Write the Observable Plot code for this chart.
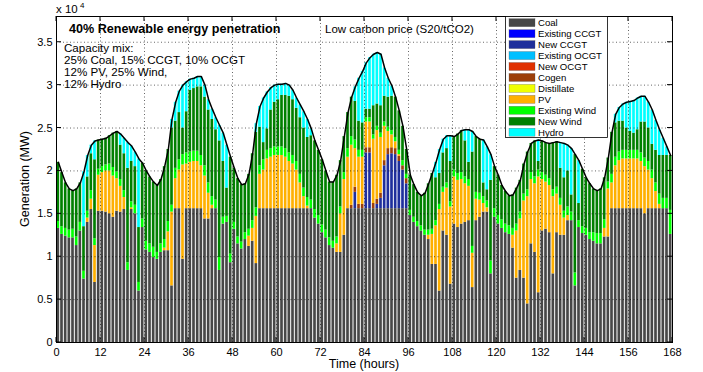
<!DOCTYPE html>
<html>
<head>
<meta charset="utf-8">
<script src="https://cdn.jsdelivr.net/npm/d3@7"></script>
<script src="https://cdn.jsdelivr.net/npm/@observablehq/plot@0.6"></script>
<style>
  body { margin: 0; background: #fff; }
  #chart svg { display: block; }
</style>
</head>
<body>
<div id="chart"></div>
<script>
// ---------- data (units: MW x 10^4) ----------
const seriesNames = ["Coal","Existing CCGT","New CCGT","Existing OCGT","New OCGT","Cogen","Distillate","PV","Existing Wind","New Wind","Hydro"];
const seriesColors = ["#474747","#0000ff","#1f2f9c","#00bfff","#e03000","#9c3f0a","#f0ff00","#ffb000","#00ff00","#008000","#00ffff"];
const xTicks = [0,12,24,36,48,60,72,84,96,108,120,132,144,156,168];
const yTicks = [0,0.5,1,1.5,2,2.5,3,3.5];

const coal = [
1.33,1.26,1.24,1.22,1.22,1.13,1.30,0.74,1.40,1.55,0.70,1.53,1.53,1.52,1.50,1.46,1.53,1.52,1.55,0.84,1.55,1.50,0.60,1.34,
1.08,1.05,0.99,0.97,1.05,1.07,1.07,0.66,1.56,1.56,0.97,1.56,1.56,1.56,1.56,1.56,1.44,1.44,1.56,1.56,0.84,1.38,1.40,0.93,
1.32,1.15,1.09,1.20,1.12,1.18,0.92,1.56,1.56,1.56,1.56,1.56,1.56,1.56,1.56,1.56,1.56,1.56,1.56,1.56,1.56,1.56,1.45,1.38,
1.28,1.22,1.13,1.10,1.05,1.05,1.25,1.56,1.56,1.56,1.56,1.56,1.56,1.56,1.56,1.56,1.56,1.56,1.56,1.56,1.56,1.56,1.56,1.56,
1.48,1.40,1.35,1.30,1.25,1.20,0.91,0.91,0.60,1.30,1.25,0.68,1.38,1.34,1.38,1.40,1.42,0.64,1.42,1.46,1.52,1.52,0.80,1.46,
1.38,1.33,1.28,1.26,1.10,0.75,0.84,0.75,0.45,1.15,1.05,0.58,1.30,1.32,1.28,0.80,1.28,1.25,1.25,1.42,1.42,0.66,1.34,1.27,
1.25,1.20,1.18,1.15,1.15,1.23,1.23,1.56,1.56,1.56,1.56,1.56,1.56,1.56,1.56,1.56,1.50,1.56,1.56,1.56,1.56,1.56,1.56,1.26];

const pv = [
0,0,0,0,0,0,0,0,0.05,0.12,0.43,0.42,0.45,0.48,0.50,0.48,0.38,0.30,0.14,0,0.02,0,0,0,
0,0,0,0,0,0.03,0.22,0.86,0.35,0.45,1.10,0.52,0.54,0.55,0.55,0.50,0.50,0.30,0.04,0,0,0,0,0,
0,0,0,0,0.12,0.15,0.55,0.40,0.45,0.58,0.60,0.62,0.62,0.62,0.60,0.55,0.52,0.45,0.30,0.14,0.03,0,0,0,
0,0,0,0,0.10,0.45,0.65,0.60,0.70,0.45,0.55,0.55,0.30,0.30,0.75,0.80,0.65,0.40,0.20,0.15,0.08,0.02,0,0,
0,0,0,0,0,0.05,0.35,0.45,0.95,0.45,0.55,0.90,0.55,0.55,0.52,0.45,0.40,0.40,0.25,0.20,0.10,0.05,0,0,
0,0,0,0,0.15,0.55,0.60,0.90,1.25,0.75,0.80,1.35,0.60,0.55,0.55,0.90,0.45,0.35,0.20,0.06,0,0,0,0,
0,0,0,0,0,0.10,0.56,0.30,0.50,0.56,0.58,0.58,0.58,0.58,0.58,0.55,0.55,0.45,0.35,0.20,0.05,0,0,0];

const existingWind = [
0.08,0.09,0.09,0.09,0.10,0.10,0.10,0.09,0.08,0.10,0.08,0.07,0.07,0.07,0.08,0.10,0.08,0.08,0.08,0.09,0.07,0.10,0.10,0.10,
0.10,0.10,0.12,0.08,0.10,0.10,0.12,0.08,0.12,0.12,0.12,0.13,0.12,0.12,0.12,0.12,0.12,0.12,0.10,0.10,0.15,0.08,0.07,0.10,
0.08,0.08,0.08,0.08,0.08,0.09,0.10,0.10,0.12,0.10,0.10,0.10,0.10,0.10,0.10,0.10,0.10,0.10,0.10,0.10,0.10,0.10,0.10,0.10,
0.09,0.09,0.09,0.08,0.08,0.08,0.08,0.10,0.10,0.10,0.08,0.08,0.05,0.05,0.05,0.05,0.05,0.05,0.05,0.05,0.05,0.05,0.06,0.05,
0.06,0.06,0.06,0.06,0.06,0.06,0.06,0.06,0.06,0.06,0.06,0.06,0.08,0.08,0.08,0.08,0.08,0.08,0.08,0.08,0.08,0.08,0.15,0.10,
0.10,0.10,0.10,0.10,0.08,0.08,0.08,0.08,0.08,0.08,0.08,0.08,0.08,0.08,0.08,0.08,0.08,0.08,0.08,0.10,0.10,0.15,0.08,0.08,
0.08,0.08,0.10,0.12,0.12,0.10,0.08,0.10,0.10,0.10,0.10,0.10,0.10,0.10,0.10,0.10,0.10,0.10,0.10,0.10,0.12,0.12,0.12,0.28];

const newWind = [
0.69,0.63,0.53,0.48,0.45,0.56,0.46,0.52,0.40,0.43,0.92,0.34,0.32,0.31,0.33,0.40,0.47,0.40,0.43,1.10,0.47,0.45,0.64,0.65,
0.82,0.78,0.76,0.78,0.75,0.85,0.84,0.90,0.55,0.55,0.31,0.48,0.72,0.73,0.75,0.80,0.80,0.85,0.90,0.82,1.36,0.65,0.33,1.13,
0.63,0.68,0.67,0.57,0.64,0.78,0.88,0.45,0.20,0.25,0.45,0.52,0.55,0.60,0.62,0.66,0.65,0.62,0.66,0.70,0.70,0.75,0.80,0.76,
0.76,0.69,0.65,0.69,0.72,0.54,0.42,0.42,0.46,0.45,0.34,0.32,0.10,0.10,0.34,0.26,0.32,0.30,0.35,0.40,0.47,0.46,0.40,0.29,
0.41,0.38,0.34,0.35,0.43,0.54,0.65,0.50,0.36,0.40,0.40,0.47,0.39,0.46,0.49,0.42,0.20,1.10,0.65,0.63,0.16,0.13,0.94,0.49,
0.47,0.40,0.38,0.35,0.39,0.42,0.37,0.35,0.44,0.34,0.42,0.10,0.37,0.38,0.41,0.55,0.53,0.35,0.39,0.42,0.20,1.38,0.20,0.67,
0.59,0.57,0.51,0.50,0.52,0.49,0.28,0.49,0.40,0.36,0.34,0.26,0.22,0.20,0.24,0.36,0.42,0.39,0.30,0.38,0.45,0.50,0.50,0.64];

const hydro = [
0,0,0,0,0,0,0,0.64,0.25,0.10,0.22,0,0,0,0,0,0,0.13,0.18,0.30,0.18,0.17,0.80,0,
0,0,0,0,0,0,0,0.10,0.22,0.25,0.50,0.35,0.13,0.12,0.12,0.12,0.14,0.12,0.12,0.14,0.18,0.33,0.50,0,
0,0,0,0,0,0,0.10,0.24,0.52,0.43,0.26,0.20,0.18,0.13,0.14,0.13,0.11,0.12,0.15,0.19,0.21,0.08,0,0,
0,0,0,0,0,0,0,0,0,0.17,0.50,0.60,0.54,0.60,0.60,0.60,0.60,0.33,0.22,0.12,0,0,0,0,
0,0,0,0,0,0,0,0.18,0.28,0.16,0.15,0.30,0,0,0,0.13,0.38,0.24,0,0,0.50,0.50,0.30,0,
0,0,0,0,0,0,0,0,0,0,0,0.25,0,0,0,0,0,0.30,0.40,0.30,0.54,0,0.50,0,
0,0,0,0,0,0,0,0,0.10,0.16,0.20,0.30,0.35,0.38,0.37,0.30,0.30,0.30,0.40,0.35,0.30,0.20,0.10,0];

const thermalHours = [80,81,82,83,84,85,86,87,88,89,90,91,92,93,94,95];
const newCCGT = [0,0.19,0,0,0.65,0.65,0,0.05,0.12,0.50,0.63,0.64,0.63,0.55,0.45,0.29];
const cogen   = [0.04,0.06,0.05,0.05,0.06,0.06,0.06,0.06,0.06,0.06,0.07,0.07,0.07,0.06,0.05,0.06];

const demand = [
2.10,1.98,1.86,1.79,1.77,1.79,1.86,1.99,2.18,2.30,2.35,2.36,2.37,2.38,2.41,2.44,2.46,2.43,2.38,2.33,2.29,2.22,2.14,2.09,
2.00,1.93,1.87,1.83,1.90,2.05,2.25,2.60,2.80,2.93,3.00,3.04,3.07,3.08,3.10,3.10,3.00,2.83,2.72,2.62,2.53,2.44,2.30,2.16,
2.03,1.91,1.84,1.85,1.96,2.20,2.55,2.75,2.85,2.92,2.97,3.00,3.01,3.01,3.02,3.00,2.94,2.85,2.77,2.69,2.60,2.49,2.35,2.24,
2.13,2.00,1.87,1.87,1.95,2.12,2.40,2.68,2.86,2.98,3.08,3.16,3.26,3.32,3.36,3.38,3.36,3.20,3.08,2.99,2.86,2.70,2.52,2.25,
1.95,1.84,1.75,1.71,1.74,1.85,1.97,2.10,2.25,2.37,2.41,2.41,2.40,2.43,2.47,2.48,2.48,2.46,2.40,2.37,2.36,2.28,2.19,2.05,
1.95,1.83,1.76,1.71,1.72,1.80,1.89,2.08,2.22,2.32,2.35,2.36,2.35,2.33,2.32,2.33,2.34,2.33,2.32,2.30,2.26,2.19,2.12,2.02,
1.92,1.85,1.79,1.77,1.79,1.92,2.15,2.45,2.66,2.74,2.78,2.80,2.81,2.82,2.85,2.87,2.87,2.80,2.71,2.59,2.48,2.38,2.28,2.18];

// ---------- stacking ----------
const ccgtAt = new Map(thermalHours.map((h, i) => [h, newCCGT[i]]));
const cogenAt = new Map(thermalHours.map((h, i) => [h, cogen[i]]));
const valueOf = {
  "Coal": h => coal[h],
  "Existing CCGT": () => 0,
  "New CCGT": h => ccgtAt.get(h) || 0,
  "Existing OCGT": () => 0,
  "New OCGT": () => 0,
  "Cogen": h => cogenAt.get(h) || 0,
  "Distillate": () => 0,
  "PV": h => pv[h],
  "Existing Wind": h => existingWind[h],
  "New Wind": h => newWind[h],
  "Hydro": h => hydro[h]
};
const rows = [];
for (let h = 0; h < demand.length; h++) {
  let base = 0;
  for (const s of seriesNames) {
    const v = valueOf[s](h);
    if (v > 0) rows.push({x1: h, x2: h + 1, y1: base, y2: base + v, series: s});
    base += v;
  }
}
const demandPts = demand.map((d, h) => ({x: h + 0.5, y: d}));

const FONT = '"Liberation Sans", Arial, Helvetica, sans-serif';

const plot = Plot.plot({
  width: 703,
  height: 372,
  marginLeft: 56,
  marginRight: 31,
  marginTop: 16,
  marginBottom: 30,
  style: {fontFamily: FONT, fontSize: "11px", color: "black", background: "white", overflow: "visible"},
  x: {domain: [0, 168], ticks: xTicks, tickSize: 0, tickPadding: 6, label: null, tickFormat: d => String(d)},
  y: {domain: [0, 3.8], ticks: yTicks, tickSize: 0, tickPadding: 4, label: null, tickFormat: d => String(d)},
  color: {domain: seriesNames, range: seriesColors},
  marks: [
    Plot.rect(rows, {x1: "x1", x2: "x2", y1: "y1", y2: "y2", fill: "series", insetLeft: 0.5, insetRight: 0.5}),
    Plot.ruleX(xTicks.slice(1, -1), {stroke: "#000", strokeOpacity: 0.6, strokeDasharray: "1,2.5"}),
    Plot.ruleY(yTicks.slice(1), {stroke: "#000", strokeOpacity: 0.6, strokeDasharray: "1,2.5"}),
    Plot.line(demandPts, {x: "x", y: "y", stroke: "black", strokeWidth: 1.5}),
    Plot.frame({stroke: "black", strokeWidth: 1})
  ]
});

document.getElementById("chart").appendChild(plot);

// ---------- extras drawn with the plot's scales ----------
const svg = d3.select(plot);
const sx = v => plot.scale("x").apply(v);
const sy = v => plot.scale("y").apply(v);
const x0 = sx(0), x1 = sx(168), y0 = sy(0), yTop = sy(3.8);
const g = svg.append("g").attr("stroke", "black").attr("stroke-width", 1);
for (const t of xTicks) {
  g.append("line").attr("x1", sx(t)).attr("x2", sx(t)).attr("y1", y0).attr("y2", y0 - 5);
  g.append("line").attr("x1", sx(t)).attr("x2", sx(t)).attr("y1", yTop).attr("y2", yTop + 5);
}
for (const t of yTicks) {
  g.append("line").attr("x1", x0).attr("x2", x0 + 5).attr("y1", sy(t)).attr("y2", sy(t));
  g.append("line").attr("x1", x1).attr("x2", x1 - 5).attr("y1", sy(t)).attr("y2", sy(t));
}

const txt = svg.append("g").attr("font-family", FONT).attr("fill", "black").attr("text-anchor", "start");
// exponent label
txt.append("text").attr("x", 56).attr("y", 13).attr("font-size", 11.5).text("x 10");
txt.append("text").attr("x", 80).attr("y", 8).attr("font-size", 8).text("4");
// axis labels
txt.append("text").attr("x", (x0 + x1) / 2).attr("y", 368).attr("text-anchor", "middle").attr("font-size", 12.5).text("Time (hours)");
txt.append("text").attr("transform", `translate(29,${(y0 + yTop) / 2}) rotate(-90)`).attr("text-anchor", "middle").attr("font-size", 12.5).text("Generation (MW)");
// annotations
txt.append("text").attr("x", 69).attr("y", 33).attr("font-size", 12.6).attr("font-weight", "bold").text("40% Renewable energy penetration");
txt.append("text").attr("x", 325).attr("y", 33).attr("font-size", 11.5).text("Low carbon price (S20/tCO2)");
const mix = ["Capacity mix:", "25% Coal, 15% CCGT, 10% OCGT", "12% PV, 25% Wind,", "12% Hydro"];
mix.forEach((s, i) => txt.append("text").attr("x", 64).attr("y", 52 + i * 12).attr("font-size", 11.6).text(s));

// legend
const lg = svg.append("g").attr("font-family", FONT).attr("text-anchor", "start");
lg.append("rect").attr("x", 505.5).attr("y", 16.5).attr("width", 102).attr("height", 121)
  .attr("fill", "white").attr("stroke", "black").attr("stroke-width", 0.8);
seriesNames.forEach((s, i) => {
  const cy = 22.7 + i * 10.95;
  lg.append("rect").attr("x", 509).attr("y", cy - 4).attr("width", 26).attr("height", 8)
    .attr("fill", seriesColors[i]).attr("stroke", "#555").attr("stroke-width", 0.3);
  lg.append("text").attr("x", 538).attr("y", cy + 3.4).attr("font-size", 9.6).attr("fill", "black").text(s);
});
</script>
</body>
</html>
